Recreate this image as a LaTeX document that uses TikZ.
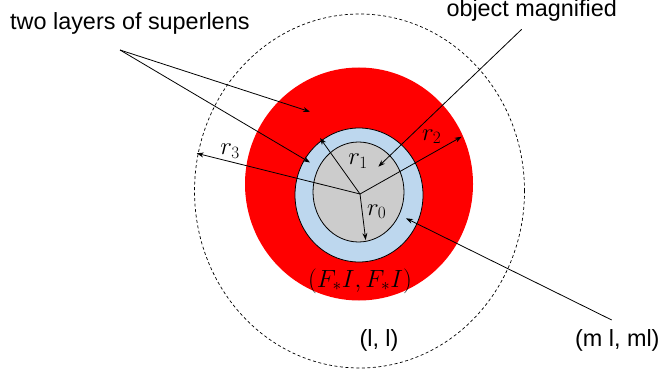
\documentclass[tikz,border=0pt]{standalone}
\usepackage{fontspec}
\setmainfont{Liberation Sans}
\usetikzlibrary{arrows.meta}
\definecolor{lensred}{RGB}{255,0,0}
\definecolor{lensblue}{RGB}{189,215,238}
\definecolor{objgray}{RGB}{204,204,204}
\tikzset{
  lbl/.style={inner sep=0pt, font=\fontsize{23.4}{28}\selectfont},
  mlbl/.style={inner sep=0pt, font=\fontsize{23.5}{28}\selectfont},
  flbl/.style={inner sep=0pt, font=\fontsize{26}{30}\selectfont},
  arr/.style={line width=0.8pt, -{Stealth[length=7pt,width=5pt]}},
  ring/.style={line width=0.8pt, draw=black},
}
\begin{document}
\begin{tikzpicture}[x=1pt,y=-1pt]
\useasboundingbox (0,0) rectangle (660,379);
% shapes
\draw[line width=0.7pt, dash pattern=on 3pt off 2.5pt] (359.5,191) ellipse [x radius=165pt, y radius=177pt];
\fill[lensred] (359,184) ellipse [x radius=114pt, y radius=116.5pt];
\filldraw[ring, fill=lensblue] (359,195) ellipse [x radius=64pt, y radius=67pt];
\filldraw[ring, fill=objgray] (358.5,192) ellipse [x radius=45.5pt, y radius=50pt];
% coordinates
\coordinate (O) at (360,194);
\coordinate (e0) at (365.7,240);
\coordinate (e1) at (320,138);
\coordinate (e2) at (461.7,136.7);
\coordinate (e3) at (196.7,153.3);
\coordinate (T) at (120,50);
\coordinate (tA) at (310,111.7);
\coordinate (tB) at (310,162.5);
\coordinate (M) at (521.7,29.3);
\coordinate (mE) at (378.3,166.7);
\coordinate (P) at (611.7,320);
\coordinate (pE) at (406,218.3);
% text
\node[lbl, anchor=base west] (tl) at (10,30) {two layers of superlens};
\node[lbl, anchor=base] (om) at (531.7,17) {object magnified};
\node[lbl, anchor=base] (ll) at (379,346.5) {(l, l)};
\node[lbl, anchor=base] (mll) at (617.3,346.5) {(m l, ml)};
\node[mlbl] (lr0) at (376.7,211.7) {$r_0$};
\node[mlbl] (lr1) at (358,161) {$r_1$};
\node[mlbl] (lr2) at (431.7,136.7) {$r_2$};
\node[mlbl] (lr3) at (230,151) {$r_3$};
\node[flbl] (lf) at (360,281) {$(F_*I,F_*I)$};
% radii
\draw[arr] (O) -- (e0);
\draw[arr] (O) -- (e1);
\draw[arr] (O) -- (e2);
\draw[arr] (O) -- (e3);
% pointers
\draw[arr] (T) -- (tA);
\draw[arr] (T) -- (tB);
\draw[arr] (M) -- (mE);
\draw[arr] (P) -- (pE);
\end{tikzpicture}
\end{document}
